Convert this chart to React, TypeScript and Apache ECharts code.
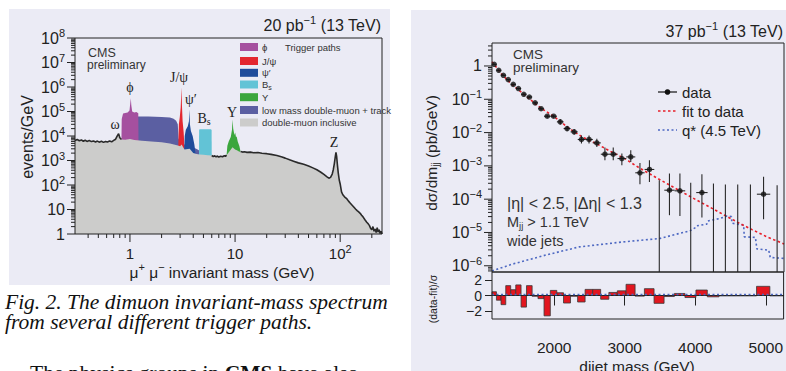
import { useEffect, useRef } from 'react';
import * as echarts from 'echarts';

// ---------------- LEFT: dimuon invariant-mass spectrum ----------------
const LEFT_X_DECADES = [0, 1, 2];
const LEFT_Y_DECADES = [0, 1, 2, 3, 4, 5, 6, 7, 8];

// double-muon inclusive (mass GeV, events/GeV)
const INCLUSIVE: [number, number][] = [
  [0.30, 6500], [0.315, 7200], [0.33, 6400], [0.345, 6900], [0.36, 6100], [0.375, 6700], [0.39, 6000],
  [0.41, 6500], [0.43, 5900], [0.45, 6300], [0.47, 5700], [0.49, 6200], [0.51, 5600], [0.535, 6100],
  [0.56, 5500], [0.585, 6000], [0.61, 5700], [0.64, 6200], [0.67, 5800], [0.70, 6600], [0.73, 7400],
  [0.755, 9800], [0.78, 12500], [0.80, 8500], [0.83, 7200],
  [0.9, 7000], [1.0, 7600], [1.1, 6800], [1.3, 6400], [1.6, 6000], [2.0, 5600], [2.4, 5000], [2.8, 4200],
  [3.0, 3800], [3.1, 4500], [3.3, 2800], [3.7, 3000], [4.0, 2000], [4.3, 1850], [4.6, 1750], [5.0, 1700],
  [5.5, 1650], [6.0, 1600],
  [6.2, 1450], [6.4, 1550], [6.6, 1400], [6.8, 1520], [7.0, 1380], [7.3, 1500], [7.6, 1420], [7.9, 1560],
  [8.1, 1480], [8.3, 1650],
  [9.46, 3500], [10.0, 2800], [10.4, 2600], [11.0, 2300],
  [11.3, 2350], [11.8, 2200], [12.3, 2280], [13, 2150], [14, 2200], [15, 2080], [16.5, 2120], [18, 1980],
  [20, 1900], [22, 1780], [25, 1600], [28, 1380], [30, 1250], [33, 1070], [36, 940], [40, 800], [45, 700],
  [50, 600], [55, 500], [60, 420], [65, 340], [70, 270], [75, 215], [78, 190], [81, 205], [84, 280],
  [86, 420], [88, 750], [90, 1500], [91.2, 2150], [92.5, 1500], [94, 700], [96, 300], [98, 160], [100, 110],
  [103, 52], [106, 40], [110, 33], [116, 27], [120, 22], [125, 18], [130, 15], [134, 13], [140, 10.5],
  [145, 9], [150, 8], [155, 7], [160, 5.8], [165, 5], [172, 3.8], [179, 3], [185, 2.6], [190, 2.2],
  [195, 1.7], [200, 1.5], [205, 2.0], [210, 1.3], [215, 1.6], [220, 1.15], [225, 1.8], [230, 1.2],
  [235, 1.5], [240, 1.05], [245, 1.3], [250, 1.0],
];
const OUTLINE_RANGES: [number, number][] = [[0.3, 0.83], [6.0, 8.3], [11.3, 250]];

// trigger paths (upper edges)
const LOWMASS: [number, number][] = [
  [0.95, 1000], [1.0, 60000], [1.2, 62000], [1.5, 62000], [2.0, 60000], [2.4, 57000], [2.6, 51000],
  [2.75, 42000], [2.85, 30000], [2.9, 8000], [3.0, 5000], [3.3, 4500], [4.0, 3500], [4.4, 2800],
  [4.6, 2500], [4.65, 1000],
];
const PHI: [number, number][] = [
  [0.825, 1000], [0.835, 50000], [0.86, 82000], [0.9, 86000], [0.95, 90000], [0.99, 110000],
  [1.005, 200000], [1.019, 350000], [1.03, 180000], [1.05, 100000], [1.1, 90000], [1.15, 95000],
  [1.2, 85000], [1.21, 1000],
];
const JPSI: [number, number][] = [
  [2.88, 3000], [2.92, 30000], [2.98, 60000], [3.04, 150000], [3.08, 600000], [3.097, 950000],
  [3.12, 200000], [3.17, 40000], [3.24, 15000], [3.28, 6000], [3.3, 2000],
];
const PSI2S: [number, number][] = [
  [3.29, 3000], [3.32, 10000], [3.4, 18000], [3.55, 25000], [3.64, 40000], [3.686, 120000],
  [3.72, 30000], [3.8, 16000], [3.95, 10000], [4.1, 4500], [4.2, 2000],
];
const BS: [number, number][] = [
  [4.54, 1500], [4.55, 17500], [4.6, 19000], [5.9, 19000], [5.98, 17500], [6.0, 1500],
];
const UPSILON: [number, number][] = [
  [8.3, 1600], [8.45, 4000], [8.7, 6000], [9.1, 9000], [9.35, 18000], [9.46, 47000], [9.6, 20000],
  [9.85, 11000], [10.02, 14000], [10.2, 9000], [10.36, 9500], [10.6, 6000], [11.0, 3800], [11.3, 2200],
];

const LEFT_LEGEND_LABELS = ['ϕ', 'J/ψ', 'ψ′', 'B{sub|s}', 'Υ', 'low mass double-muon + track', 'double-muon inclusive'];
const PEAK_LABELS = ['ω', 'ϕ', 'J/ψ', 'ψ′', 'B{sub|s}', 'Υ', 'Z'];

// ---------------- RIGHT: dijet mass spectrum ----------------
const RIGHT_Y_DECADES = [-6, -5, -4, -3, -2, -1, 0];
const RES_X_TICKS = [2000, 3000, 4000, 5000];
const RES_Y_TICKS = [-2, 0, 2];

const BIN_EDGES = [1118, 1181, 1246, 1313, 1383, 1455, 1530, 1607, 1687, 1770, 1856, 1945, 2037, 2132,
  2231, 2332, 2438, 2546, 2659, 2775, 2895, 3019, 3147, 3279, 3416, 3558, 3704, 3854, 4010, 4171, 4337,
  4509, 4686, 4869, 5058, 5253];
const DATA_VALUES = [1.12, 0.74, 0.525, 0.39, 0.28, 0.21, 0.141, 0.117, 0.078, 0.052, 0.031, 0.031, 0.021,
  0.0132, 0.0105, 0.0062, 0.0062, 0.0049, 0.00224, 0.00224, 0.00166, 0.00186, 0.00062, 0.00078, 0,
  0.000186, 0.000178, 0, 0.000158, 0, 0, 0, 0, 0.000141, 0];
const DATA_ERR_LO = [1.08, 0.71, 0.50, 0.37, 0.265, 0.198, 0.132, 0.109, 0.071, 0.047, 0.028, 0.028, 0.0175,
  0.011, 0.0087, 0.0047, 0.0047, 0.0037, 0.00148, 0.00148, 0.00105, 0.0013, 0.00028, 0.00033, 0,
  0.000033, 0.000031, 0, 0.000028, 0, 0, 0, 0, 0.000025, 0];
const DATA_ERR_HI = [1.16, 0.77, 0.55, 0.41, 0.295, 0.222, 0.150, 0.125, 0.085, 0.057, 0.034, 0.034, 0.025,
  0.0158, 0.0126, 0.0082, 0.0082, 0.0065, 0.00355, 0.00355, 0.00234, 0.00295, 0.00123, 0.00148, 0.00037,
  0.00059, 0.00059, 0.00031, 0.00056, 0.000295, 0.000275, 0.000275, 0.000275, 0.00047, 0.00026];
const RESIDUALS = [0.48, -0.6, -1.17, 1.26, 0.74, 1.35, -1.48, 1.26, -0.1, -0.4, -2.6, 0.65, 0.35, -0.96,
  -0.1, -0.83, 0.78, 0.78, -0.48, 0.39, 0.6, 1.43, -0.08, 0.87, -1.0, -0.13, 0.26, -0.26, 0.7, -0.17,
  -0.05, -0.05, -0.05, 1.17, -0.05];
const FIT: [number, number][] = [[1118, 1.35], [1250, 0.58], [1400, 0.28], [1600, 0.125], [1800, 0.056],
  [2000, 0.030], [2200, 0.0138], [2400, 0.0073], [2600, 0.0046], [2800, 0.0027], [3000, 0.00165],
  [3200, 0.00088], [3400, 0.00050], [3600, 0.00029], [3800, 0.000168], [4000, 0.000098], [4200, 0.000058],
  [4400, 0.000034], [4600, 0.000020], [4800, 0.0000122], [5000, 0.0000076], [5253, 0.0000045]];
const QSTAR: [number, number][] = [[1118, 7.0e-7], [1407, 1.12e-6], [1881, 2.1e-6], [2356, 3.7e-6],
  [2973, 5.2e-6], [3495, 6.6e-6], [3732, 8.9e-6], [3922, 1.12e-5], [4010, 1.45e-5], [4017, 1.58e-5],
  [4160, 1.78e-5], [4171, 2.2e-5], [4207, 2.3e-5], [4337, 2.6e-5], [4444, 3.1e-5], [4509, 3.0e-5],
  [4515, 1.9e-5], [4682, 1.66e-5], [4690, 7.4e-6], [4848, 7.1e-6], [4869, 3.2e-6], [5037, 2.95e-6],
  [5058, 1.78e-6], [5253, 1.66e-6]];
const RES_ZERO: [number, number][] = [[1118, 0], [5253, 0]];
const RES_QSTAR: [number, number][] = [[1118, 0.12], [5253, 0.12]];
const RIGHT_LEGEND_LABELS = ['data', 'fit to data', 'q* (4.5 TeV)'];

// ---------------- styling ----------------
const SANS = '"Liberation Sans", Arial, sans-serif';
const SERIF = '"Liberation Serif", "Times New Roman", serif';
const INK = '#222';
const BG = '#ebebf5';
const LEFT_COLORS = ['#a5509f', '#e3262f', '#1f4c9b', '#62c3d6', '#3ba63d', '#5b5fa2', '#cccccb'];

const L_XMIN = 0.3, L_XMAX = 250, L_YMIN = 1, L_YMAX = 1e8;
const R_XMIN = 1118, R_XMAX = 5253, R_YMIN = 6.5e-7, R_YMAX = 4.9;

function decadeLabel(decades: number[]) {
  return (v: number) => {
    const l = Math.log10(v);
    const e = Math.round(l);
    if (Math.abs(l - e) > 1e-6 || decades.indexOf(e) < 0) return '';
    if (e === 0) return '1';
    if (e === 1) return '10';
    return '10{s|' + (e < 0 ? '−' : '') + Math.abs(e) + '}';
  };
}

function logTickValues(d0: number, d1: number, lo: number, hi: number) {
  const out: [number, number][] = [];
  for (let k = d0; k <= d1; k++) {
    for (let m = 1; m <= 9; m++) {
      const v = m * Math.pow(10, k);
      if (v > lo * 1.0001 && v < hi * 0.9999) out.push([v, m === 1 ? 8 : 4]);
      else if (m === 1 && Math.abs(v - lo) / lo < 1e-6) out.push([v, 8]);
      else if (m === 1 && Math.abs(v - hi) / hi < 1e-6) out.push([v, 8]);
    }
  }
  return out;
}

const supRich = { s: { fontSize: 11, lineHeight: 11, padding: [0, 0, 10, 0], fontFamily: SANS, color: INK } };
const supRichG = { s: { fontSize: 11, lineHeight: 11, padding: [0, 0, 10, 0], fontFamily: SANS, fill: INK } };

function txt(x: number, y: number, text: string, o: any = {}, extra: any = {}) {
  return {
    type: 'text', x, y, z: 100, silent: true, ...extra,
    style: { text, fill: INK, fontFamily: SANS, fontSize: 15, align: 'left', verticalAlign: 'middle', ...o },
  };
}

function buildOption() {
  const areaSeries = (data: [number, number][], color: string, z: number) => ({
    type: 'line', xAxisIndex: 0, yAxisIndex: 0, data, symbol: 'none', showSymbol: false, silent: true,
    lineStyle: { width: 0, opacity: 0 }, areaStyle: { color, opacity: 1, origin: 'start' }, z,
  });

  const outlineSeries = OUTLINE_RANGES.map(([a, b]) => ({
    type: 'line', xAxisIndex: 0, yAxisIndex: 0, symbol: 'none', silent: true, z: 9,
    data: INCLUSIVE.filter(p => p[0] >= a && p[0] <= b),
    lineStyle: { color: '#2a2a2a', width: 1.6 },
  }));

  const yTickSeries = (xi: number, yi: number, xmin: number, ticks: [number, number][]) => ({
    type: 'custom', xAxisIndex: xi, yAxisIndex: yi, silent: true, z: 10,
    data: ticks.map(t => [xmin, t[0], t[1]]),
    encode: { x: 0, y: 1 },
    renderItem: (params: any, api: any) => {
      const p = api.coord([api.value(0), api.value(1)]);
      const len = api.value(2);
      return { type: 'line', shape: { x1: p[0] - len, y1: p[1], x2: p[0], y2: p[1] }, style: { stroke: INK, lineWidth: 1 } };
    },
  });
  const xTickSeries = (xi: number, yi: number, ymin: number, ticks: [number, number][]) => ({
    type: 'custom', xAxisIndex: xi, yAxisIndex: yi, silent: true, z: 10,
    data: ticks.map(t => [t[0], ymin, t[1]]),
    encode: { x: 0, y: 1 },
    renderItem: (params: any, api: any) => {
      const p = api.coord([api.value(0), api.value(1)]);
      const len = api.value(2);
      return { type: 'line', shape: { x1: p[0], y1: p[1], x2: p[0], y2: p[1] + len }, style: { stroke: INK, lineWidth: 1 } };
    },
  });

  const bins = DATA_VALUES.map((v, i) => [BIN_EDGES[i], BIN_EDGES[i + 1], v, DATA_ERR_LO[i], DATA_ERR_HI[i]]);
  const points = bins.filter(b => b[2] > 0).map(b => [(b[0] + b[1]) / 2, b[2]]);
  const resBins = RESIDUALS.map((r, i) => [BIN_EDGES[i], BIN_EDGES[i + 1], r]);

  const axisLabelBase = { fontFamily: SANS, fontSize: 15, color: INK, lineHeight: 21, rich: supRich };

  const series: any[] = [
    areaSeries(LOWMASS, LEFT_COLORS[5], 2),
    areaSeries(PHI, LEFT_COLORS[0], 3),
    areaSeries(JPSI, LEFT_COLORS[1], 4),
    areaSeries(PSI2S, LEFT_COLORS[2], 5),
    areaSeries(BS, LEFT_COLORS[3], 6),
    areaSeries(UPSILON, LEFT_COLORS[4], 7),
    areaSeries(INCLUSIVE, LEFT_COLORS[6], 8),
    ...outlineSeries,
    yTickSeries(0, 0, L_XMIN, logTickValues(0, 8, L_YMIN, L_YMAX)),
    xTickSeries(0, 0, L_YMIN, logTickValues(-1, 2, L_XMIN, L_XMAX)),
    // right main
    yTickSeries(1, 1, R_XMIN, logTickValues(-7, 0, R_YMIN, R_YMAX)),
    {
      type: 'line', xAxisIndex: 1, yAxisIndex: 1, data: QSTAR, symbol: 'none', silent: true, z: 3,
      lineStyle: { color: '#4d68c2', width: 1.6, type: [2, 2.5] },
    },
    {
      type: 'line', xAxisIndex: 1, yAxisIndex: 1, data: FIT, symbol: 'none', silent: true, z: 3,
      lineStyle: { color: '#e8202a', width: 1.6, type: [2.5, 2.5] },
    },
    {
      type: 'custom', xAxisIndex: 1, yAxisIndex: 1, silent: true, z: 4, data: bins,
      encode: { x: [0, 1], y: 4 },
      renderItem: (params: any, api: any) => {
        const lo = api.value(0), hi = api.value(1), v = api.value(2), el = api.value(3), eh = api.value(4);
        const c = (lo + hi) / 2;
        const cs = params.coordSys;
        const top = api.coord([c, eh]);
        const st = { stroke: '#2a2a2a', lineWidth: 1.1 };
        const children: any[] = [];
        if (v > 0) {
          const pl = api.coord([lo, v]);
          const pr = api.coord([hi, v]);
          const bot = api.coord([c, el]);
          children.push({ type: 'line', shape: { x1: pl[0], y1: pl[1], x2: pr[0], y2: pr[1] }, style: st });
          children.push({ type: 'line', shape: { x1: top[0], y1: top[1], x2: bot[0], y2: bot[1] }, style: st });
        } else {
          children.push({ type: 'line', shape: { x1: top[0], y1: top[1], x2: top[0], y2: cs.y + cs.height }, style: st });
        }
        return { type: 'group', children };
      },
    },
    {
      type: 'scatter', xAxisIndex: 1, yAxisIndex: 1, data: points, symbol: 'circle', symbolSize: 5.5,
      itemStyle: { color: '#111' }, silent: true, z: 5,
    },
    // residuals
    {
      type: 'custom', xAxisIndex: 2, yAxisIndex: 2, silent: true, z: 3, data: resBins,
      encode: { x: [0, 1], y: 2 },
      renderItem: (params: any, api: any) => {
        const p0 = api.coord([api.value(0), 0]);
        const p1 = api.coord([api.value(1), api.value(2)]);
        return {
          type: 'rect',
          shape: { x: p0[0], y: Math.min(p0[1], p1[1]), width: p1[0] - p0[0], height: Math.abs(p1[1] - p0[1]) },
          style: { fill: '#e2161f', stroke: '#3a3a3a', lineWidth: 0.8 },
        };
      },
    },
    {
      type: 'line', xAxisIndex: 2, yAxisIndex: 2, data: RES_ZERO, symbol: 'none', silent: true, z: 4,
      lineStyle: { color: '#222', width: 1 },
    },
    {
      type: 'line', xAxisIndex: 2, yAxisIndex: 2, data: RES_QSTAR, symbol: 'none', silent: true, z: 4,
      lineStyle: { color: '#4d68c2', width: 1.4, type: [2, 2.5] },
    },
  ];

  const capStyle = { fontFamily: SERIF, fontStyle: 'italic', fontSize: 21.5, lineHeight: 19, fill: '#111' };

  const graphic: any[] = [
    { type: 'rect', z: -10, silent: true, shape: { x: 9, y: 9, width: 381, height: 276 }, style: { fill: BG } },
    { type: 'rect', z: -10, silent: true, shape: { x: 411, y: 10, width: 375, height: 361 }, style: { fill: BG } },
    // left texts
    txt(381, 25, '20 pb{s|−1} (13 TeV)', { align: 'right', fontSize: 16, lineHeight: 21, rich: supRichG }),
    txt(88, 53, 'CMS', { fontSize: 12.5, lineHeight: 11, fill: '#333' }),
    txt(87, 65, 'preliminary', { fontSize: 12, lineHeight: 11, fill: '#333' }),
    txt(27, 137, 'events/GeV', { align: 'center', fontSize: 16 }, { rotation: Math.PI / 2 }),
    txt(222, 272, 'μ{s|+} μ{s|−} invariant mass (GeV)', { align: 'center', fontSize: 15.5, lineHeight: 21, rich: supRichG }),
    txt(285, 47, 'Trigger paths', { fontSize: 9.5, fill: '#333' }),
  ];
  const peakPos: [number, number][] = [[115, 124], [130, 87], [179, 77], [191, 99], [204, 118], [232, 112], [334, 142]];
  PEAK_LABELS.forEach((l, i) => {
    graphic.push(txt(peakPos[i][0], peakPos[i][1], l, {
      align: 'center', fontSize: 14, fontFamily: SERIF, fill: '#222', lineHeight: 16,
      rich: { sub: { fontSize: 10, lineHeight: 10, padding: [7, 0, 0, 0], fontFamily: SERIF, fill: '#222' } },
    }));
  });
  const legY = [47, 61, 72.8, 84.5, 97.2, 110, 122.5];
  LEFT_LEGEND_LABELS.forEach((l, i) => {
    graphic.push({ type: 'rect', z: 100, silent: true, shape: { x: 240, y: legY[i] - 4, width: 18, height: 8 }, style: { fill: LEFT_COLORS[i] } });
    graphic.push(txt(262, legY[i], l, {
      fontSize: 9.5, fill: '#333', lineHeight: 11,
      rich: { sub: { fontSize: 7, lineHeight: 7, padding: [5, 0, 0, 0], fontFamily: SANS, fill: '#333' } },
    }));
  });

  // caption
  graphic.push(txt(5, 302, 'Fig. 2. The dimuon invariant-mass spectrum', capStyle));
  graphic.push(txt(5, 322, 'from several different trigger paths.', capStyle));
  graphic.push(txt(30, 373, 'The physics groups in {b|CMS} have also', {
    fontFamily: SERIF, fontSize: 21.5, lineHeight: 19, fill: '#111',
    rich: { b: { fontFamily: SERIF, fontSize: 21.5, lineHeight: 19, fontWeight: 'bold', fill: '#111' } },
  }));

  // right texts
  graphic.push(txt(783, 31, '37 pb{s|−1} (13 TeV)', { align: 'right', fontSize: 16, lineHeight: 21, rich: supRichG }));
  graphic.push(txt(513, 54, 'CMS', { fontSize: 13.5, lineHeight: 12, fill: '#333' }));
  graphic.push(txt(513, 67, 'preliminary', { fontSize: 13.5, lineHeight: 12, fill: '#333' }));
  graphic.push(txt(431, 153, 'dσ/dm{sub|jj} (pb/GeV)', {
    align: 'center', fontSize: 15.5, lineHeight: 18,
    rich: { sub: { fontSize: 10, lineHeight: 10, padding: [8, 0, 0, 0], fontFamily: SANS, fill: INK } },
  }, { rotation: Math.PI / 2 }));
  graphic.push(txt(433, 299, '(data-fit)/σ', { align: 'center', fontSize: 10.5 }, { rotation: Math.PI / 2 }));
  graphic.push(txt(507, 203, '|η| < 2.5, |Δη| < 1.3', { fontSize: 16, fill: '#333' }));
  graphic.push(txt(507, 222, 'M{sub|jj} > 1.1 TeV', {
    fontSize: 14.5, fill: '#333', lineHeight: 17,
    rich: { sub: { fontSize: 9.5, lineHeight: 9.5, padding: [7, 0, 0, 0], fontFamily: SANS, fill: '#333' } },
  }));
  graphic.push(txt(507, 241, 'wide jets', { fontSize: 14.5, fill: '#333' }));
  graphic.push(txt(637, 366, 'dijet mass (GeV)', { align: 'center', fontSize: 15.5 }));

  // right legend
  const rl = [92, 111, 130];
  graphic.push({ type: 'line', z: 100, silent: true, shape: { x1: 658, y1: rl[0], x2: 677, y2: rl[0] }, style: { stroke: '#111', lineWidth: 1.2 } });
  graphic.push({ type: 'circle', z: 100, silent: true, shape: { cx: 667.5, cy: rl[0], r: 2.8 }, style: { fill: '#111' } });
  graphic.push({ type: 'line', z: 100, silent: true, shape: { x1: 658, y1: rl[1], x2: 677, y2: rl[1] }, style: { stroke: '#e8202a', lineWidth: 1.6, lineDash: [2.5, 2.5] } });
  graphic.push({ type: 'line', z: 100, silent: true, shape: { x1: 658, y1: rl[2], x2: 677, y2: rl[2] }, style: { stroke: '#4d68c2', lineWidth: 1.6, lineDash: [2, 2.5] } });
  RIGHT_LEGEND_LABELS.forEach((l, i) => graphic.push(txt(682, rl[i], l, { fontSize: 15, fill: '#222' })));

  return {
    animation: false,
    backgroundColor: '#ffffff',
    grid: [
      { left: 75, top: 38, width: 307, height: 196, show: true, borderColor: INK, borderWidth: 1, backgroundColor: 'transparent', z: 20 },
      { left: 492, top: 43, width: 292, height: 229, show: true, borderColor: INK, borderWidth: 1, backgroundColor: 'transparent', z: 20 },
      { left: 492, top: 272, width: 292, height: 47, show: true, borderColor: INK, borderWidth: 1, backgroundColor: 'transparent', z: 20 },
    ],
    xAxis: [
      {
        type: 'log', gridIndex: 0, min: L_XMIN, max: L_XMAX, logBase: 10,
        axisLine: { show: false }, axisTick: { show: false }, splitLine: { show: false },
        axisLabel: { ...axisLabelBase, margin: 9, formatter: decadeLabel(LEFT_X_DECADES) },
      },
      {
        type: 'value', gridIndex: 1, min: R_XMIN, max: R_XMAX,
        axisLine: { show: false }, axisTick: { show: false }, splitLine: { show: false }, axisLabel: { show: false },
      },
      {
        type: 'value', gridIndex: 2, min: R_XMIN, max: R_XMAX,
        axisLine: { show: false }, splitLine: { show: false },
        axisTick: { show: true, length: 10, customValues: RES_X_TICKS, lineStyle: { color: INK } },
        axisLabel: {
          fontFamily: SANS, fontSize: 15.5, color: INK, margin: 20, customValues: RES_X_TICKS,
          formatter: (v: number) => String(v),
        },
      },
    ],
    yAxis: [
      {
        type: 'log', gridIndex: 0, min: L_YMIN, max: L_YMAX, logBase: 10,
        axisLine: { show: false }, axisTick: { show: false }, splitLine: { show: false },
        axisLabel: { ...axisLabelBase, fontSize: 16, margin: 10, formatter: decadeLabel(LEFT_Y_DECADES) },
      },
      {
        type: 'log', gridIndex: 1, min: R_YMIN, max: R_YMAX, logBase: 10,
        axisLine: { show: false }, axisTick: { show: false }, splitLine: { show: false },
        axisLabel: { ...axisLabelBase, fontSize: 16, margin: 10, formatter: decadeLabel(RIGHT_Y_DECADES) },
      },
      {
        type: 'value', gridIndex: 2, min: -3, max: 3,
        axisLine: { show: false }, splitLine: { show: false },
        axisTick: { show: true, length: 7, customValues: RES_Y_TICKS, lineStyle: { color: INK } },
        axisLabel: {
          fontFamily: SANS, fontSize: 14, color: INK, margin: 10, customValues: RES_Y_TICKS,
          formatter: (v: number) => (v < 0 ? '−' + Math.abs(v) : String(v)),
        },
      },
    ],
    series,
    graphic,
  };
}

export default function App() {
  const ref = useRef<HTMLDivElement>(null);
  useEffect(() => {
    const chart = echarts.init(ref.current!, undefined, { renderer: 'svg' });
    chart.setOption(buildOption() as any);
    return () => chart.dispose();
  }, []);
  return (
    <div
      ref={ref}
      style={{ position: 'absolute', left: 0, top: 0, width: 786, height: 371, background: '#fff', overflow: 'hidden' }}
    />
  );
}
